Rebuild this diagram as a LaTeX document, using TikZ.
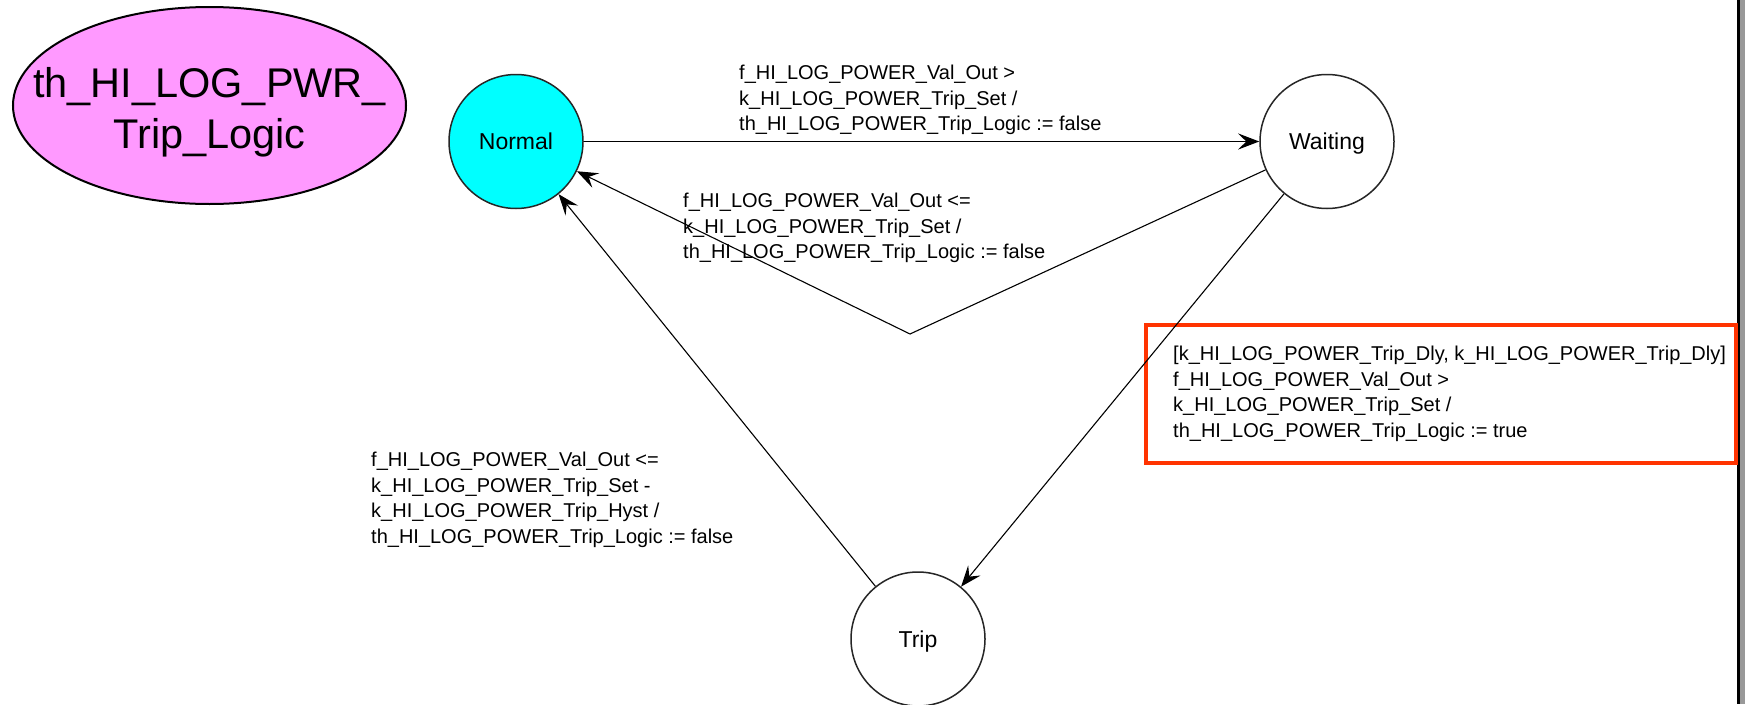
\documentclass[tikz,border=0pt]{standalone}
\usepackage{fontspec}
\setmainfont{Liberation Sans}
\usetikzlibrary{arrows.meta,shapes.geometric}
\definecolor{normalcyan}{RGB}{0,255,255}
\definecolor{titlepink}{RGB}{255,153,255}
\definecolor{hlred}{RGB}{255,51,0}
\definecolor{edgegray}{RGB}{153,153,153}
\begin{document}
\begin{tikzpicture}[x=1pt,y=-1pt,
  state/.style={circle,draw=black!85,line width=1.5pt,minimum size=134pt,inner sep=0pt,
    font=\fontsize{23}{27}\selectfont,text height=16.5pt,text depth=0pt},
  trans/.style={draw=black,line width=1.1pt,-{Stealth[length=21pt,width=16pt,inset=8pt]}},
  lbl/.style={anchor=north west,inner sep=0pt,align=left,font=\fontsize{20}{25.5}\selectfont},
  titleshape/.style={ellipse,draw=black,line width=2pt,fill=titlepink,minimum width=393pt,minimum height=197pt,inner sep=0pt},
  titletext/.style={align=center,inner sep=0pt,font=\fontsize{41.5}{51}\selectfont},
  hlbox/.style={draw=hlred,line width=4pt,minimum width=590pt,minimum height=138pt,inner sep=0pt}]
\useasboundingbox (0,0) rectangle (1745,704);
\fill[white] (0,0) rectangle (1745,704);
% right border
\fill[edgegray] (1740,0) rectangle (1745,704);
\draw[line width=3pt] (1738.5,0) -- (1738.5,704);
% title ellipse
\node[titleshape] (title) at (209.5,105.5) {};
\node[titletext] (titlelbl) at ([yshift=-6.5pt]title.center) {th\_HI\_LOG\_PWR\_\\Trip\_Logic};
% highlight box
\node[hlbox] (hl) at (1441,394) {};
% states
\node[state,fill=normalcyan] (Normal) at (516,141.5) {Normal};
\node[state,fill=white] (Waiting) at (1327,141.5) {Waiting};
\node[state,fill=white] (Trip) at (918,639) {Trip};
\coordinate (bend) at (910,334);
% transitions
\draw[trans,line width=1.8pt] (Normal) -- (Waiting);
\draw[trans] (Waiting) -- (bend) -- (Normal);
\draw[trans] (Waiting) -- (Trip);
\draw[trans] (Trip) -- (Normal);
% labels
\node[lbl] (l1) at (739,65) {f\_HI\_LOG\_POWER\_Val\_Out >\\k\_HI\_LOG\_POWER\_Trip\_Set /\\th\_HI\_LOG\_POWER\_Trip\_Logic := false};
\node[lbl] (l2) at (683,193) {f\_HI\_LOG\_POWER\_Val\_Out <=\\k\_HI\_LOG\_POWER\_Trip\_Set /\\th\_HI\_LOG\_POWER\_Trip\_Logic := false};
\node[lbl] (l3) at (1173,346) {[k\_HI\_LOG\_POWER\_Trip\_Dly, k\_HI\_LOG\_POWER\_Trip\_Dly]\\f\_HI\_LOG\_POWER\_Val\_Out >\\k\_HI\_LOG\_POWER\_Trip\_Set /\\th\_HI\_LOG\_POWER\_Trip\_Logic := true};
\node[lbl] (l4) at (371,452) {f\_HI\_LOG\_POWER\_Val\_Out <=\\k\_HI\_LOG\_POWER\_Trip\_Set -\\k\_HI\_LOG\_POWER\_Trip\_Hyst /\\th\_HI\_LOG\_POWER\_Trip\_Logic := false};
\end{tikzpicture}
\end{document}
